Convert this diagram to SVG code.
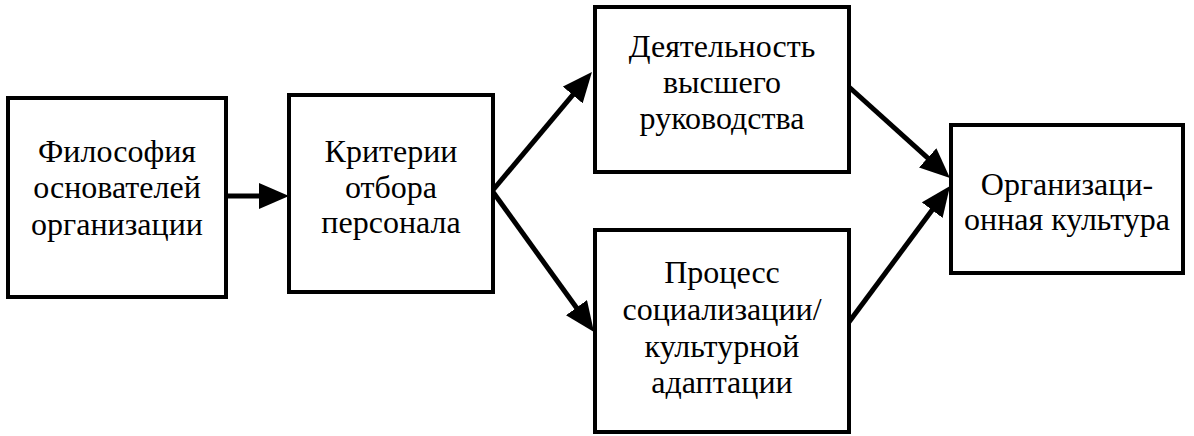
<svg xmlns="http://www.w3.org/2000/svg" width="1194" height="436" viewBox="0 0 1194 436">
<style>
.box{fill:#fff;stroke:#000;stroke-width:4}
.t{font-family:'Liberation Serif','Times New Roman',serif;font-size:32px;fill:#000;text-anchor:middle}
.c{stroke:#000;stroke-width:5;fill:none}
</style>
<defs>
<marker id="ah" markerUnits="userSpaceOnUse" viewBox="0 0 30 26" markerWidth="30" markerHeight="26" refX="10" refY="13" orient="auto">
<path d="M0,0 L30,13 L0,26 z" fill="#000"/>
</marker>
</defs>
<rect width="1194" height="436" fill="#fff"/>
<g id="connectors">
<line class="c" x1="226" y1="196" x2="269" y2="196" marker-end="url(#ah)"/>
<line class="c" x1="493" y1="190" x2="579.1" y2="87.3" marker-end="url(#ah)"/>
<line class="c" x1="493" y1="192" x2="582.3" y2="315.8" marker-end="url(#ah)"/>
<line class="c" x1="849" y1="87" x2="935.1" y2="164.6" marker-end="url(#ah)"/>
<line class="c" x1="849" y1="322" x2="938.1" y2="202.1" marker-end="url(#ah)"/>
</g>
<g id="n1">
<rect class="box" x="8" y="98" width="218" height="199"/>
<text class="t"><tspan x="117" y="162">Философия</tspan><tspan x="117" y="198">основателей</tspan><tspan x="117" y="235">организации</tspan></text>
</g>
<g id="n2">
<rect class="box" x="289" y="95" width="204" height="197"/>
<text class="t"><tspan x="391" y="162">Критерии</tspan><tspan x="391" y="198">отбора</tspan><tspan x="391" y="233">персонала</tspan></text>
</g>
<g id="n3">
<rect class="box" x="595" y="7" width="254" height="165"/>
<text class="t"><tspan x="722" y="57">Деятельность</tspan><tspan x="722" y="93">высшего</tspan><tspan x="722" y="129">руководства</tspan></text>
</g>
<g id="n4">
<rect class="box" x="595" y="230" width="254" height="202"/>
<text class="t"><tspan x="722" y="283">Процесс</tspan><tspan x="722" y="320">социализации/</tspan><tspan x="722" y="357">культурной</tspan><tspan x="722" y="393">адаптации</tspan></text>
</g>
<g id="n5">
<rect class="box" x="951" y="125" width="232" height="148"/>
<text class="t"><tspan x="1067" y="195">Организаци-</tspan><tspan x="1067" y="230">онная культура</tspan></text>
</g>
</svg>
